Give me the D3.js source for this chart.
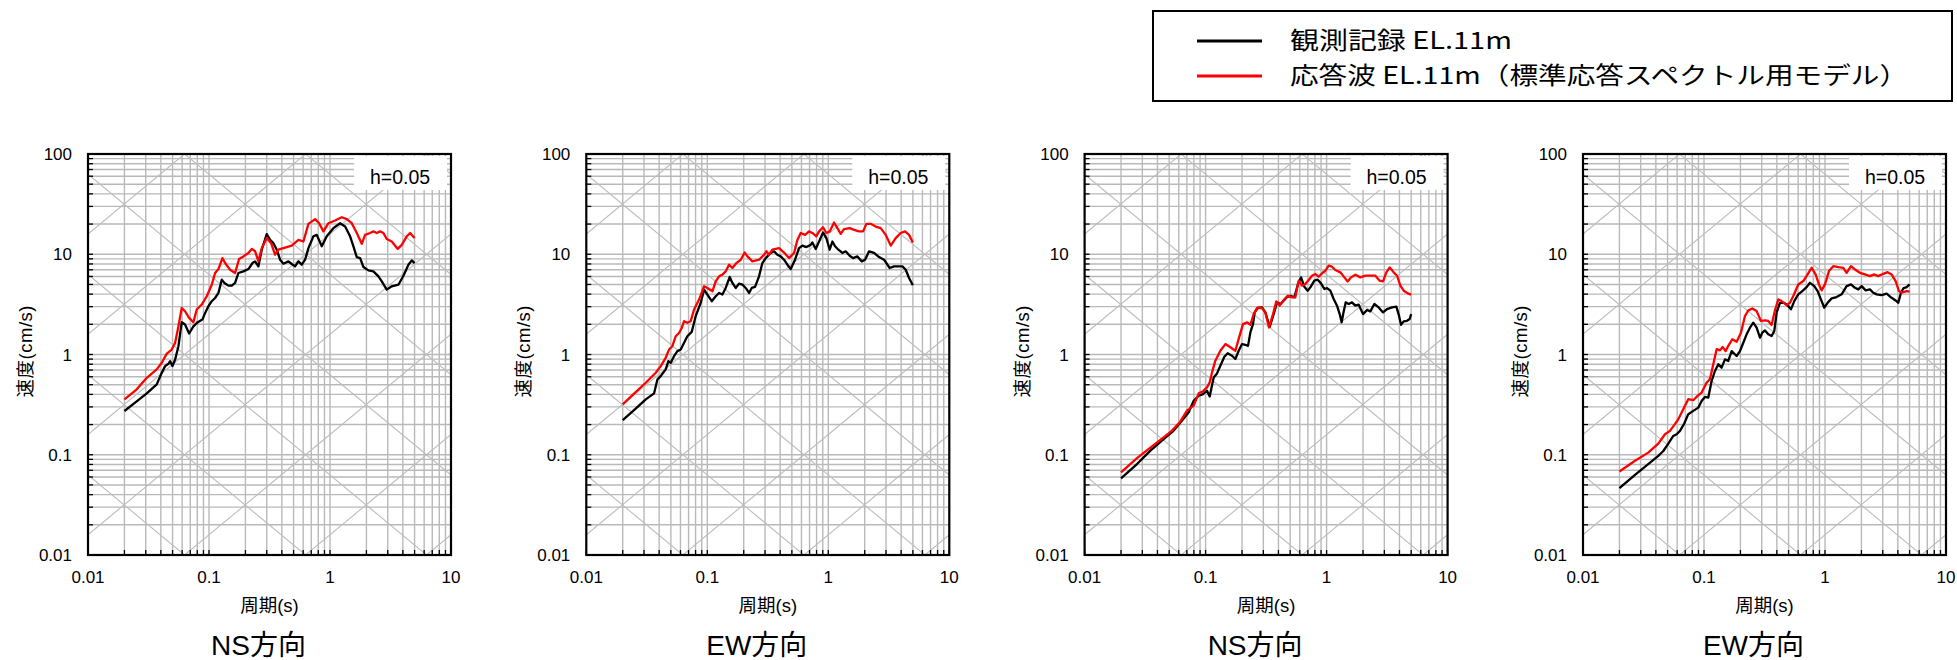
<!DOCTYPE html>
<html><head><meta charset="utf-8">
<script src="https://cdn.jsdelivr.net/npm/d3@7/dist/d3.min.js"></script>
<style>body{margin:0;background:#fff}svg{display:block}</style>
</head><body>
<svg id="chart" width="1957" height="660"></svg>
<script>
// ---------- data ----------
const panelTitles = ["NS方向", "EW方向", "NS方向", "EW方向"];
const legendLabels = ["観測記録 EL.11m", "応答波 EL.11m（標準応答スペクトル用モデル）"];
const seriesColors = ["#000000", "#ff0000"];
const xTickValues = [0.01, 0.1, 1, 10];
const xTickLabels = ["0.01", "0.1", "1", "10"];
const yTickValues = [0.01, 0.1, 1, 10, 100];
const yTickLabels = ["0.01", "0.1", "1", "10", "100"];
const dampingLabel = "h=0.05";
const xTitle = "周期(s)";
const yTitle = "速度(cm/s)";

// [period (s), velocity (cm/s)]
const obs1 = [[0.02,0.273],[0.0245,0.331],[0.0306,0.409],[0.037,0.503],[0.0407,0.658],[0.0434,0.766],[0.0462,0.808],[0.0477,0.859],[0.0499,0.766],[0.0525,0.892],[0.0559,1.21],[0.0595,2.10],[0.0634,1.99],[0.0685,1.62],[0.0743,1.91],[0.0807,2.10],[0.0882,2.23],[0.0929,2.60],[0.0989,3.03],[0.1054,3.40],[0.1123,3.66],[0.1197,4.11],[0.1274,5.58],[0.1341,5.17],[0.1447,4.86],[0.1542,4.86],[0.1643,5.17],[0.175,6.50],[0.1926,6.75],[0.2118,7.12],[0.2285,8.17],[0.2404,8.49],[0.2561,7.57],[0.2729,11.1],[0.3001,15.9],[0.3198,13.9],[0.3405,12.9],[0.3631,11.1],[0.3869,8.82],[0.4121,8.05],[0.4532,8.49],[0.4829,7.99],[0.5146,7.57],[0.5483,8.49],[0.5843,7.87],[0.6223,8.82],[0.6632,11.5],[0.7295,15.1],[0.7774,15.6],[0.8551,12.0],[0.9402,15.1],[1.067,18.2],[1.212,20.4],[1.333,18.9],[1.466,15.1],[1.562,12.0],[1.664,9.37],[1.774,9.16],[1.889,7.46],[2.078,6.91],[2.285,6.75],[2.513,6.02],[2.678,5.37],[2.944,4.44],[3.238,4.79],[3.678,4.97],[4.045,6.11],[4.447,7.87],[4.739,8.69],[5.0,8.17]];
const resp1 = [[0.02,0.357],[0.0253,0.449],[0.0306,0.586],[0.037,0.71],[0.0407,0.827],[0.0448,1.02],[0.0492,1.12],[0.0525,1.31],[0.0559,1.91],[0.0595,2.91],[0.0634,2.70],[0.0685,2.32],[0.0743,2.10],[0.0792,2.81],[0.0871,3.15],[0.0958,3.81],[0.1054,4.97],[0.1123,6.50],[0.1197,7.12],[0.1291,9.16],[0.1358,8.17],[0.1494,7.01],[0.1643,6.50],[0.1773,8.96],[0.1926,9.52],[0.2118,10.3],[0.2256,11.3],[0.2404,10.7],[0.2561,8.49],[0.2729,11.5],[0.3001,14.5],[0.3259,12.9],[0.3516,9.89],[0.3747,11.1],[0.4121,11.5],[0.4829,12.2],[0.5483,13.9],[0.6031,13.4],[0.6632,20.1],[0.7531,22.4],[0.8128,20.4],[0.8823,16.9],[0.9705,20.4],[1.102,21.7],[1.251,23.4],[1.376,22.4],[1.513,20.4],[1.664,16.3],[1.83,12.7],[1.95,15.6],[2.145,16.3],[2.285,16.9],[2.434,16.3],[2.594,16.9],[2.764,16.3],[2.944,14.2],[3.238,13.4],[3.631,11.3],[3.917,12.4],[4.309,15.1],[4.591,16.3],[5.0,14.5]];
const obs2 = [[0.02,0.222],[0.0256,0.288],[0.031,0.357],[0.0363,0.409],[0.0387,0.564],[0.0412,0.609],[0.0453,0.71],[0.0477,0.859],[0.0499,0.827],[0.0531,0.963],[0.0566,1.08],[0.0603,1.12],[0.0643,1.31],[0.0684,1.52],[0.0743,1.68],[0.0802,2.41],[0.0882,3.27],[0.094,4.44],[0.1002,3.96],[0.1088,3.40],[0.1174,3.81],[0.1251,4.11],[0.1333,3.96],[0.142,4.61],[0.1532,5.93],[0.1612,5.17],[0.1717,4.61],[0.183,5.09],[0.195,4.97],[0.2077,4.61],[0.2214,4.11],[0.2329,4.61],[0.2481,4.72],[0.2677,6.02],[0.2852,8.17],[0.3039,9.16],[0.3343,10.3],[0.3562,10.7],[0.3795,9.89],[0.4044,9.52],[0.4309,8.82],[0.459,7.87],[0.489,7.12],[0.5311,8.82],[0.5731,11.5],[0.6106,12.2],[0.659,11.8],[0.7155,12.4],[0.7386,13.1],[0.787,11.3],[0.8494,13.9],[0.9049,16.5],[0.9643,14.5],[1.027,11.1],[1.081,13.4],[1.137,12.0],[1.212,11.1],[1.307,10.3],[1.393,10.7],[1.503,9.67],[1.602,9.16],[1.74,9.52],[1.889,8.49],[2.013,8.82],[2.172,10.7],[2.388,10.3],[2.628,9.37],[2.889,8.82],[3.218,7.29],[3.494,7.57],[3.843,7.57],[4.096,7.57],[4.364,7.01],[4.649,5.79],[5.0,4.90]];
const resp2 = [[0.02,0.318],[0.0256,0.422],[0.031,0.523],[0.0375,0.658],[0.0412,0.766],[0.0453,0.927],[0.0483,1.12],[0.0514,1.21],[0.0548,1.52],[0.0584,1.64],[0.0615,1.84],[0.0643,2.15],[0.0684,2.07],[0.0729,2.15],[0.0777,2.81],[0.0855,3.53],[0.094,4.79],[0.1002,4.61],[0.1102,4.27],[0.1174,5.37],[0.1251,6.02],[0.1333,6.26],[0.142,6.75],[0.1512,7.87],[0.1612,7.29],[0.1739,8.17],[0.1889,8.82],[0.2038,10.4],[0.2145,9.52],[0.2359,8.49],[0.2677,8.82],[0.2944,9.89],[0.3078,10.7],[0.3239,9.89],[0.3451,11.1],[0.3677,11.3],[0.3917,11.5],[0.4309,10.4],[0.4738,9.16],[0.5212,10.3],[0.5552,13.9],[0.5916,16.3],[0.6426,15.6],[0.6932,16.9],[0.7386,16.3],[0.7972,15.1],[0.8386,16.9],[0.9049,18.6],[0.9643,16.3],[1.027,16.9],[1.116,20.7],[1.189,18.2],[1.267,16.0],[1.349,17.8],[1.503,18.2],[1.633,17.5],[1.796,16.9],[1.937,16.9],[2.065,20.1],[2.242,20.1],[2.466,18.9],[2.712,18.2],[2.983,15.6],[3.28,12.2],[3.607,14.5],[3.967,16.3],[4.309,16.9],[4.649,15.6],[5.0,13.1]];
const obs3 = [[0.02,0.0581],[0.0271,0.0808],[0.035,0.11],[0.045,0.143],[0.0545,0.174],[0.0639,0.219],[0.0725,0.265],[0.0797,0.346],[0.0877,0.388],[0.0952,0.403],[0.1027,0.435],[0.1081,0.382],[0.1166,0.591],[0.1243,0.648],[0.1324,0.773],[0.1429,0.951],[0.1522,1.03],[0.1653,0.973],[0.1762,0.901],[0.1877,1.09],[0.2,1.27],[0.2131,1.25],[0.2242,1.22],[0.2344,1.66],[0.2465,2.01],[0.2545,2.63],[0.2694,2.91],[0.2926,2.95],[0.3117,2.63],[0.3386,1.89],[0.3653,2.53],[0.3893,3.31],[0.4148,3.19],[0.4418,3.44],[0.4709,3.72],[0.5017,3.86],[0.5414,3.72],[0.5803,5.05],[0.6145,5.88],[0.6548,4.75],[0.6977,4.33],[0.7339,4.67],[0.7921,5.45],[0.8437,5.57],[0.8992,5.12],[0.9581,4.50],[1.008,4.60],[1.074,4.33],[1.144,3.58],[1.219,3.07],[1.283,2.53],[1.333,2.09],[1.384,2.69],[1.438,3.31],[1.522,3.19],[1.622,3.31],[1.729,3.07],[1.842,3.14],[2.0,2.53],[2.159,2.78],[2.299,2.69],[2.481,3.19],[2.695,2.95],[2.927,2.63],[3.157,2.84],[3.473,2.95],[3.771,3.0],[3.967,2.44],[4.121,1.98],[4.337,2.14],[4.619,2.17],[4.86,2.26],[5.0,2.53]];
const resp3 = [[0.02,0.0667],[0.0271,0.0927],[0.035,0.118],[0.045,0.149],[0.0528,0.174],[0.0619,0.215],[0.0702,0.275],[0.0797,0.309],[0.0877,0.41],[0.0952,0.429],[0.1027,0.47],[0.1081,0.527],[0.113,0.663],[0.1204,0.868],[0.1324,1.09],[0.1456,1.27],[0.1602,1.18],[0.1762,1.09],[0.1877,1.43],[0.2038,2.01],[0.22,2.09],[0.2344,1.98],[0.2497,2.53],[0.2661,2.91],[0.2926,2.91],[0.3117,2.63],[0.3343,1.86],[0.3607,2.53],[0.3843,3.39],[0.4096,3.07],[0.4418,3.49],[0.4769,3.86],[0.5179,3.72],[0.5518,3.72],[0.5877,5.45],[0.6263,4.86],[0.6674,5.05],[0.7112,5.53],[0.7577,6.11],[0.8074,6.35],[0.8601,5.97],[0.9167,6.45],[0.9766,6.85],[1.041,7.69],[1.109,7.51],[1.181,6.96],[1.299,6.60],[1.402,5.88],[1.494,5.36],[1.591,5.88],[1.729,6.25],[1.901,5.88],[2.091,6.11],[2.299,6.11],[2.529,6.11],[2.746,5.45],[2.927,5.36],[3.117,6.60],[3.322,7.40],[3.584,6.60],[3.819,6.11],[4.069,4.86],[4.337,4.33],[4.678,4.07],[5.0,3.95]];
const obs4 = [[0.02,0.0465],[0.0269,0.0631],[0.0346,0.0806],[0.0419,0.0975],[0.0461,0.109],[0.0507,0.129],[0.0557,0.154],[0.0594,0.160],[0.0633,0.173],[0.0687,0.205],[0.0741,0.254],[0.0815,0.274],[0.0897,0.295],[0.0956,0.344],[0.1018,0.377],[0.1085,0.372],[0.1156,0.544],[0.1232,0.685],[0.1313,0.798],[0.1398,0.739],[0.149,0.895],[0.1587,0.862],[0.1692,1.08],[0.1861,0.966],[0.1982,1.08],[0.2112,1.31],[0.225,1.59],[0.2398,1.85],[0.2554,2.08],[0.2722,1.85],[0.2901,1.47],[0.3032,1.65],[0.319,1.74],[0.3399,1.59],[0.3621,1.53],[0.3809,1.71],[0.3982,2.61],[0.4242,3.28],[0.4607,3.28],[0.4971,3.04],[0.523,2.82],[0.5574,3.41],[0.6015,3.98],[0.6492,4.29],[0.7049,4.70],[0.7511,5.19],[0.8155,4.81],[0.869,4.29],[0.9378,3.41],[0.9865,2.93],[1.051,3.28],[1.134,3.63],[1.247,3.74],[1.372,3.98],[1.509,4.81],[1.639,5.00],[1.768,4.63],[1.884,4.46],[2.008,4.81],[2.167,4.36],[2.352,4.46],[2.506,4.13],[2.671,3.98],[2.937,3.91],[3.231,4.04],[3.553,3.68],[3.834,3.46],[4.034,3.28],[4.243,4.13],[4.436,4.56],[4.727,4.70],[5.0,5.00]];
const resp4 = [[0.02,0.0681],[0.0269,0.087],[0.0346,0.105],[0.0419,0.129],[0.0476,0.160],[0.0523,0.173],[0.0575,0.202],[0.0613,0.226],[0.0674,0.284],[0.0741,0.358],[0.0815,0.350],[0.0886,0.386],[0.0956,0.417],[0.1051,0.524],[0.112,0.566],[0.1193,0.798],[0.1272,1.13],[0.1355,1.10],[0.1425,1.19],[0.1509,1.08],[0.1587,1.22],[0.1713,1.42],[0.1861,1.34],[0.202,1.65],[0.2181,2.42],[0.2323,2.75],[0.2506,2.88],[0.2722,2.71],[0.2957,2.16],[0.319,2.19],[0.3399,2.16],[0.3621,1.97],[0.3857,2.75],[0.411,3.54],[0.4379,3.41],[0.4816,3.11],[0.5132,3.28],[0.5469,3.83],[0.6015,5.00],[0.6617,5.40],[0.7185,6.29],[0.7752,7.33],[0.8365,6.29],[0.8913,5.00],[0.9378,4.36],[0.9991,5.00],[1.078,6.79],[1.171,7.61],[1.288,7.44],[1.416,7.33],[1.509,6.53],[1.639,7.61],[1.768,7.05],[1.945,6.53],[2.139,6.29],[2.352,6.05],[2.554,6.29],[2.757,6.05],[3.032,6.38],[3.292,6.63],[3.553,6.29],[3.834,5.40],[4.085,4.29],[4.298,4.13],[4.727,4.29],[5.0,4.23]];

const panelSeries = [[obs1, resp1], [obs2, resp2], [obs3, resp3], [obs4, resp4]];

// ---------- layout ----------
const svg = d3.select("#chart");
const plotW = 363, plotH = 401, plotTop = 154;
const plotLefts = [88, 586.3, 1084.6, 1583];
const FONT = "'Liberation Sans', Arial, 'Noto Sans CJK JP', sans-serif";
const x = d3.scaleLog().domain([0.01, 10]).range([0, plotW]);
const y = d3.scaleLog().domain([0.01, 100]).range([plotH, 0]);
const line = d3.line().x(d => x(d[0])).y(d => y(d[1]));

svg.append("defs").append("clipPath").attr("id", "plotClip")
  .append("rect").attr("x", 0).attr("y", 0).attr("width", plotW).attr("height", plotH);

plotLefts.forEach((left, i) => {
  const g = svg.append("g").attr("transform", `translate(${left},${plotTop})`);
  const inner = g.append("g").attr("clip-path", "url(#plotClip)");

  // grid
  inner.selectAll("line.vg").data(x.ticks()).join("line")
    .attr("x1", d => x(d)).attr("x2", d => x(d)).attr("y1", 0).attr("y2", plotH)
    .attr("stroke", "#b9b9b9").attr("stroke-width", 1.4);
  inner.selectAll("line.hg").data(y.ticks()).join("line")
    .attr("y1", d => y(d)).attr("y2", d => y(d)).attr("x1", 0).attr("x2", plotW)
    .attr("stroke", "#b9b9b9").attr("stroke-width", 1.4);

  // tripartite diagonals: constant displacement and constant acceleration
  const decades = d3.range(-6, 9);
  const tEnds = [0.01, 10];
  decades.forEach(k => {
    const D = Math.pow(10, k - 4);   // cm
    const A = Math.pow(10, k - 1);   // cm/s^2
    inner.append("path").datum(tEnds.map(t => [t, 2 * Math.PI * D / t]))
      .attr("d", line).attr("stroke", "#bdbdbd").attr("stroke-width", 1.1).attr("fill", "none");
    inner.append("path").datum(tEnds.map(t => [t, A * t / (2 * Math.PI)]))
      .attr("d", line).attr("stroke", "#bdbdbd").attr("stroke-width", 1.1).attr("fill", "none");
  });

  // damping label box
  g.append("rect").attr("x", plotW - 97).attr("y", 2).attr("width", 93).attr("height", 34)
    .attr("fill", "#fff");
  g.append("text").attr("x", plotW - 51).attr("y", 30).attr("text-anchor", "middle")
    .attr("font-family", FONT).attr("font-size", 19.5).attr("fill", "#000").text(dampingLabel);

  // series
  panelSeries[i].forEach((s, j) => {
    inner.append("path").datum(s).attr("d", line)
      .attr("fill", "none").attr("stroke", seriesColors[j]).attr("stroke-width", 2.3)
      .attr("stroke-linejoin", "round");
  });

  // ticks (inward)
  g.selectAll("line.yt").data(y.ticks()).join("line")
    .attr("x1", 0).attr("x2", 5).attr("y1", d => y(d)).attr("y2", d => y(d))
    .attr("stroke", "#000").attr("stroke-width", 1.3);
  g.selectAll("line.xt").data(x.ticks()).join("line")
    .attr("y1", plotH).attr("y2", plotH - 5).attr("x1", d => x(d)).attr("x2", d => x(d))
    .attr("stroke", "#000").attr("stroke-width", 1.3);

  // frame
  g.append("rect").attr("x", 0).attr("y", 0).attr("width", plotW).attr("height", plotH)
    .attr("fill", "none").attr("stroke", "#000").attr("stroke-width", 2.2);

  // tick labels
  g.selectAll("text.xl").data(xTickValues).join("text")
    .attr("x", d => x(d)).attr("y", plotH + 28).attr("text-anchor", "middle")
    .attr("font-family", FONT).attr("font-size", 17).attr("fill", "#000")
    .text((d, k) => xTickLabels[k]);
  g.selectAll("text.yl").data(yTickValues).join("text")
    .attr("x", -16).attr("y", d => y(d) + 6).attr("text-anchor", "end")
    .attr("font-family", FONT).attr("font-size", 17).attr("fill", "#000")
    .text((d, k) => yTickLabels[k]);

  // axis titles
  g.append("text").attr("x", plotW / 2).attr("y", plotH + 57).attr("text-anchor", "middle")
    .attr("font-family", FONT).attr("font-size", 18.5).attr("fill", "#000").text(xTitle);
  g.append("text").attr("transform", `translate(-56,${plotH / 2 - 3}) rotate(-90)`)
    .attr("text-anchor", "middle").attr("textLength", 92).attr("lengthAdjust", "spacing")
    .attr("font-family", FONT).attr("font-size", 18.5).attr("fill", "#000").text(yTitle);

  // panel title
  g.append("text").attr("x", plotW / 2 - 11).attr("y", plotH + 100).attr("text-anchor", "middle")
    .attr("font-family", FONT).attr("font-size", 28).attr("fill", "#000").text(panelTitles[i]);
});

// ---------- legend ----------
const lg = svg.append("g");
lg.append("rect").attr("x", 1153).attr("y", 11).attr("width", 799).attr("height", 90)
  .attr("fill", "#fff").attr("stroke", "#000").attr("stroke-width", 2);
const legendY = [41, 76];
const legendLen = [222, 618];
legendLabels.forEach((lab, j) => {
  lg.append("line").attr("x1", 1197).attr("x2", 1262).attr("y1", legendY[j]).attr("y2", legendY[j])
    .attr("stroke", seriesColors[j]).attr("stroke-width", 3.2);
  lg.append("text").attr("x", 1290).attr("y", legendY[j] + 8)
    .attr("font-family", "'Noto Sans CJK JP', sans-serif").attr("font-size", 24)
    .attr("textLength", legendLen[j]).attr("lengthAdjust", "spacingAndGlyphs")
    .attr("fill", "#000").text(lab);
});
</script>
</body></html>
